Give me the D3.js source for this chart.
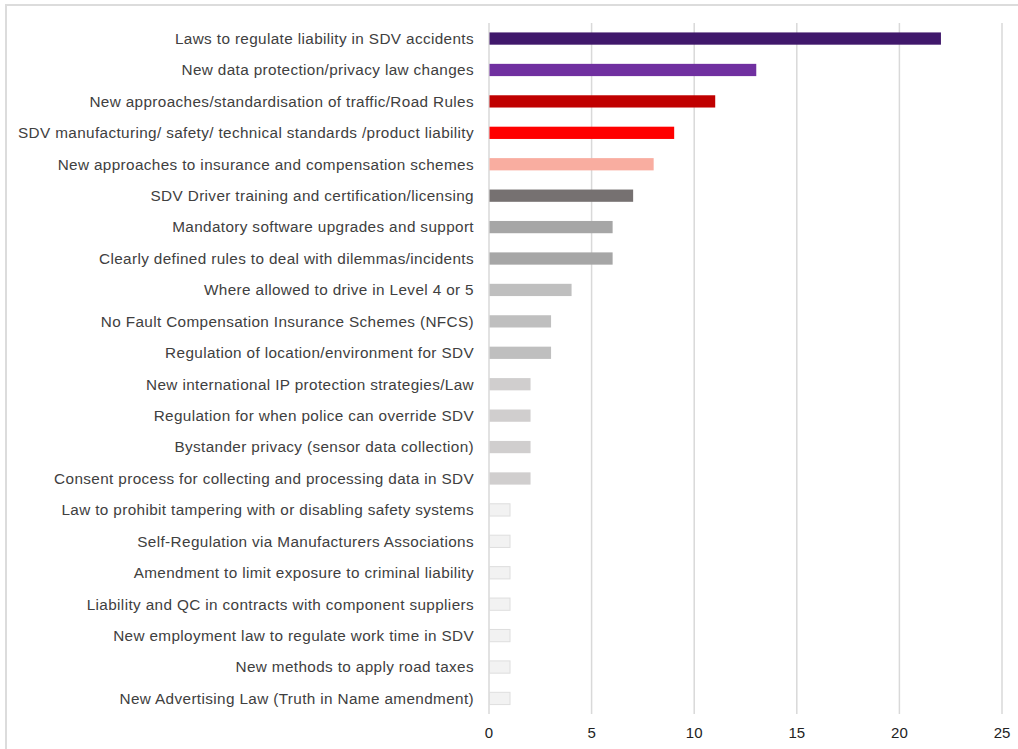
<!DOCTYPE html>
<html>
<head>
<meta charset="utf-8">
<script src="https://cdn.jsdelivr.net/npm/d3@7"></script>
<style>
  body { margin: 0; background: #fff; }
  text { font-family: "Liberation Sans", Arial, sans-serif; }
</style>
</head>
<body>
<svg id="chart"></svg>
<script>
// data
let categories = [
  "Laws to regulate liability in SDV accidents",
  "New data protection/privacy law changes",
  "New approaches/standardisation of traffic/Road Rules",
  "SDV manufacturing/ safety/ technical standards /product liability",
  "New approaches to insurance and compensation schemes",
  "SDV Driver training and certification/licensing",
  "Mandatory software upgrades and support",
  "Clearly defined rules to deal with dilemmas/incidents",
  "Where allowed to drive in Level 4 or 5",
  "No Fault Compensation Insurance Schemes (NFCS)",
  "Regulation of location/environment for SDV",
  "New international IP protection strategies/Law",
  "Regulation for when police can override SDV",
  "Bystander privacy (sensor data collection)",
  "Consent process for collecting and processing data in SDV",
  "Law to prohibit tampering with or disabling safety systems",
  "Self-Regulation via Manufacturers Associations",
  "Amendment to limit exposure to criminal liability",
  "Liability and QC in contracts with component suppliers",
  "New employment law to regulate work time in SDV",
  "New methods to apply road taxes",
  "New Advertising Law (Truth in Name amendment)"
];
let values = [22, 13, 11, 9, 8, 7, 6, 6, 4, 3, 3, 2, 2, 2, 2, 1, 1, 1, 1, 1, 1, 1];
let barColors = [
  "#40186b", "#7030a0", "#c00000", "#ff0000", "#f9ada0", "#767171",
  "#a6a6a6", "#a6a6a6", "#bfbfbf", "#bfbfbf", "#bfbfbf",
  "#d0cece", "#d0cece", "#d0cece", "#d0cece",
  "#f2f2f2", "#f2f2f2", "#f2f2f2", "#f2f2f2", "#f2f2f2", "#f2f2f2", "#f2f2f2"
];
let xTicks = [0, 5, 10, 15, 20, 25];

let width = 1018, height = 749;
let margin = {top: 23, right: 16, bottom: 35, left: 489};

let svg = d3.select("#chart")
  .attr("width", width)
  .attr("height", height);

// outer frame (only top and left edges are visible)
svg.append("rect")
  .attr("x", 6)
  .attr("y", 5)
  .attr("width", width + 20)
  .attr("height", height + 20)
  .attr("fill", "none")
  .attr("stroke", "#dcdcdc")
  .attr("stroke-width", 2)

let x = d3.scaleLinear()
  .domain([0, 25])
  .range([margin.left, width - margin.right]);

let y = d3.scaleBand()
  .domain(categories)
  .range([margin.top, height - margin.bottom])
  .paddingInner(0.61)
  .paddingOuter(0.3);

// vertical gridlines
svg.append("g")
  .selectAll("line")
  .data(xTicks)
  .enter()
  .append("line")
  .attr("x1", d => x(d))
  .attr("x2", d => x(d))
  .attr("y1", margin.top)
  .attr("y2", height - margin.bottom)
  .attr("stroke", "#d9d9d9")
  .attr("stroke-width", 1.5)

// bars
svg.append("g")
  .selectAll("rect")
  .data(values)
  .enter()
  .append("rect")
  .attr("x", x(0) + 0.5)
  .attr("y", (d, i) => y(categories[i]))
  .attr("width", d => x(d) - x(0))
  .attr("height", y.bandwidth())
  .attr("fill", (d, i) => barColors[i])
  .attr("stroke", (d, i) => barColors[i] == "#f2f2f2" ? "#dedede" : "none")
  .attr("stroke-width", 1)

// category labels
svg.append("g")
  .selectAll("text")
  .data(categories)
  .enter()
  .append("text")
  .attr("x", margin.left - 15)
  .attr("y", d => y(d) + y.bandwidth() / 2)
  .attr("dy", "0.35em")
  .attr("text-anchor", "end")
  .attr("font-size", 15.3)
  .attr("letter-spacing", 0.37)
  .attr("fill", "#404040")
  .text(d => d)

// x tick labels
svg.append("g")
  .selectAll("text")
  .data(xTicks)
  .enter()
  .append("text")
  .attr("x", d => x(d))
  .attr("y", 738)
  .attr("text-anchor", "middle")
  .attr("font-size", 15)
  .attr("fill", "#222")
  .text(d => d)
</script>
</body>
</html>
